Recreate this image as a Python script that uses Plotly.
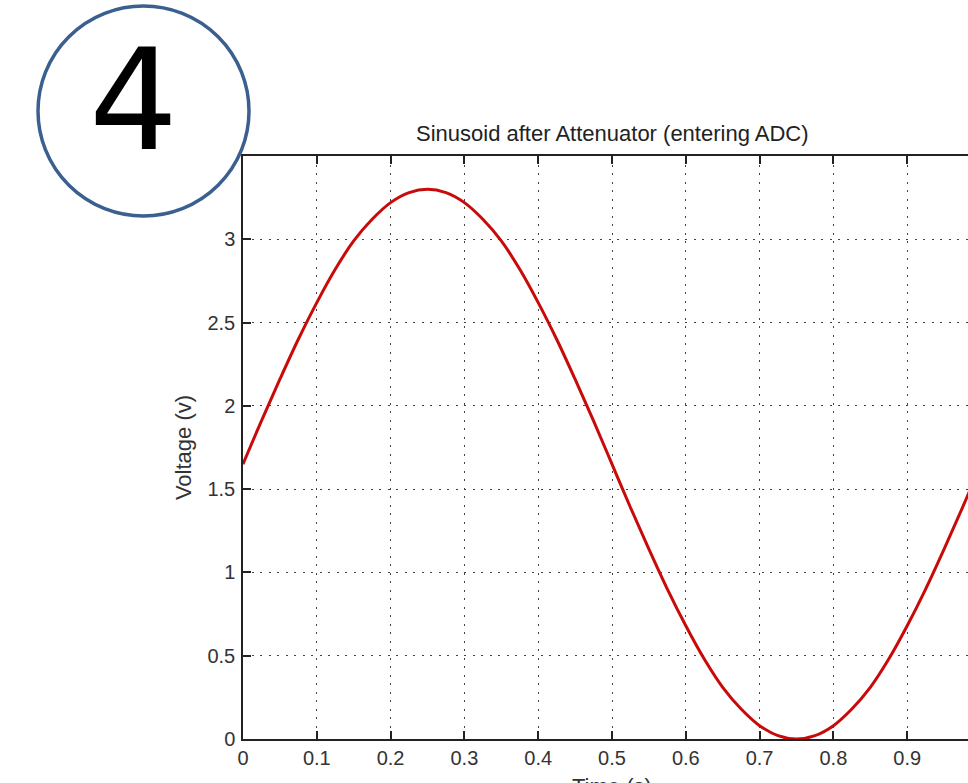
import plotly.graph_objects as go

# Data (time in s, voltage in V)
time_s = [0.0, 0.025, 0.05, 0.075, 0.1, 0.125, 0.15, 0.175, 0.2, 0.225,
          0.25, 0.275, 0.3, 0.325, 0.35, 0.375, 0.4, 0.425, 0.45, 0.475,
          0.5, 0.525, 0.55, 0.575, 0.6, 0.625, 0.65, 0.675, 0.7, 0.725,
          0.75, 0.775, 0.8, 0.825, 0.85, 0.875, 0.9, 0.925, 0.95, 0.975, 1.0]
voltage_v = [1.65, 1.91, 2.16, 2.40, 2.62, 2.82, 2.99, 3.12, 3.22, 3.28,
             3.30, 3.28, 3.22, 3.12, 2.99, 2.82, 2.62, 2.40, 2.16, 1.91,
             1.65, 1.39, 1.14, 0.90, 0.68, 0.48, 0.31, 0.18, 0.08, 0.02,
             0.00, 0.02, 0.08, 0.18, 0.31, 0.48, 0.68, 0.90, 1.14, 1.39, 1.65]

x_ticks = [0, 0.1, 0.2, 0.3, 0.4, 0.5, 0.6, 0.7, 0.8, 0.9]
x_tick_labels = ["0", "0.1", "0.2", "0.3", "0.4", "0.5", "0.6", "0.7", "0.8", "0.9"]
y_ticks = [0, 0.5, 1, 1.5, 2, 2.5, 3]
y_tick_labels = ["0", "0.5", "1", "1.5", "2", "2.5", "3"]

title_text = "Sinusoid after Attenuator (entering ADC)"
x_title = "Time (s)"
y_title = "Voltage (v)"
badge_text = "4"

W, H = 968, 783
L, R, T, B = 243, 0, 156, 44
pw, ph = W - L - R, H - T - B

def px(xp):
    return (xp - L) / pw

def py(yp):
    return (H - B - yp) / ph

font_family = "Liberation Sans, Arial, sans-serif"

fig = go.Figure()
fig.add_trace(go.Scatter(
    x=time_s, y=voltage_v, mode="lines",
    line=dict(color="#c80a0a", width=3, shape="spline"),
    hoverinfo="skip", showlegend=False,
))

grid = dict(showgrid=True, gridcolor="#444444", gridwidth=1.3, griddash="2px,6.5px")

fig.update_layout(
    width=W, height=H,
    margin=dict(l=L, r=R, t=T, b=B, pad=0, autoexpand=False),
    paper_bgcolor="white", plot_bgcolor="white",
    font=dict(family=font_family, size=20, color="#333333"),
    xaxis=dict(
        range=[0, (W - L) / 738.0], tickmode="array", tickvals=x_ticks, ticktext=x_tick_labels,
        ticks="inside", ticklen=8, tickwidth=1.5, tickcolor="#222222",
        showline=True, linecolor="#222222", linewidth=1.5, mirror="ticks",
        zeroline=False, ticklabelstandoff=0, automargin=False,
        **grid,
    ),
    yaxis=dict(
        range=[0, 3.5], tickmode="array", tickvals=y_ticks, ticktext=y_tick_labels,
        ticks="inside", ticklen=8, tickwidth=1.5, tickcolor="#222222",
        showline=True, linecolor="#222222", linewidth=1.5, mirror=False,
        zeroline=False, ticklabelstandoff=2, automargin=False,
        title=dict(text=y_title, standoff=10, font=dict(size=22)),
        **grid,
    ),
    shapes=[
        dict(type="circle", xref="paper", yref="paper",
             x0=px(38), x1=px(249), y0=py(216), y1=py(6),
             line=dict(color="#3b5f8e", width=3.5), fillcolor="rgba(0,0,0,0)",
             layer="above"),
    ],
    annotations=[
        dict(text=title_text, xref="x", yref="paper", x=0.5, y=py(133),
             xanchor="center", yanchor="middle", showarrow=False,
             font=dict(size=22, color="#222222")),
        dict(text=x_title, xref="x", yref="paper", x=0.5, y=py(772),
             xanchor="center", yanchor="top", showarrow=False,
             font=dict(size=22, color="#333333")),
        dict(text=badge_text, xref="paper", yref="paper", x=px(133), y=py(100),
             xanchor="center", yanchor="middle", showarrow=False,
             font=dict(family="DejaVu Sans, sans-serif", size=140, color="#000000")),
    ],
)

fig.write_html(
    "out.html",
    config={"displayModeBar": False},
    post_script="document.body.style.margin='0';document.body.style.overflow='hidden';",
)
